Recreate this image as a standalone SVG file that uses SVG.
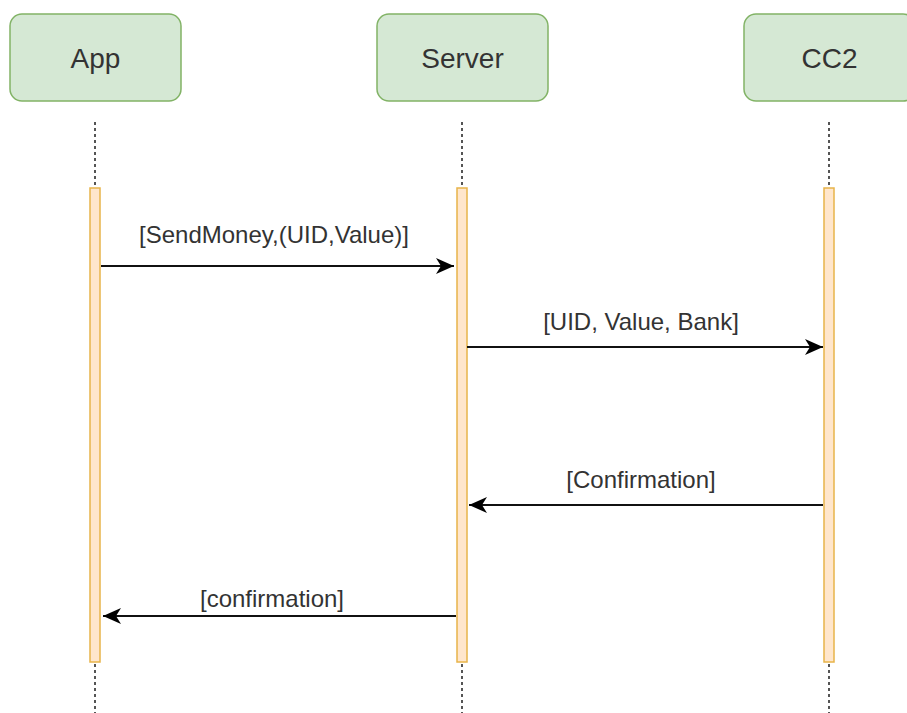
<svg xmlns="http://www.w3.org/2000/svg" width="907" height="713" viewBox="0 0 907 713">
<style>
.box{fill:#d5e8d4;stroke:#82b366;stroke-width:1.5}
.bt{font-family:"Liberation Sans",Arial,sans-serif;font-size:28px;fill:#333;text-anchor:middle}
.life{stroke:#555;stroke-width:2;stroke-dasharray:3 3;fill:none}
.act{fill:#ffe6cc;stroke:#e8b44a;stroke-width:1.5}
.msg{stroke:#111;stroke-width:2;fill:none;marker-end:url(#ah)}
.lt{font-family:"Liberation Sans",Arial,sans-serif;font-size:24px;fill:#333;text-anchor:middle}
</style>
<defs>
<marker id="ah" markerUnits="userSpaceOnUse" markerWidth="20" markerHeight="18" refX="18" refY="8" orient="auto">
<path d="M0,0 L18,8 L0,16 L5,8 Z" fill="#000"/>
</marker>
</defs>
<rect width="907" height="713" fill="#fff"/>
<g id="app">
<rect class="box" x="10" y="14" width="171" height="87" rx="12"/>
<text class="bt" x="95.5" y="68">App</text>
<line class="life" x1="95" y1="122" x2="95" y2="188"/>
<line class="life" x1="95" y1="664" x2="95" y2="713"/>
<rect class="act" x="90" y="188" width="10" height="474"/>
</g>
<g id="server">
<rect class="box" x="377" y="14" width="171" height="87" rx="12"/>
<text class="bt" x="462.5" y="68">Server</text>
<line class="life" x1="462" y1="122" x2="462" y2="188"/>
<line class="life" x1="462" y1="664" x2="462" y2="713"/>
<rect class="act" x="457" y="188" width="10" height="474"/>
</g>
<g id="cc2">
<rect class="box" x="744" y="14" width="171" height="87" rx="12"/>
<text class="bt" x="829.5" y="68">CC2</text>
<line class="life" x1="829" y1="122" x2="829" y2="188"/>
<line class="life" x1="829" y1="664" x2="829" y2="713"/>
<rect class="act" x="824" y="188" width="10" height="474"/>
</g>
<g id="connectors">
<line class="msg" x1="101" y1="266" x2="454" y2="266"/>
<text class="lt" x="274" y="243">[SendMoney,(UID,Value)]</text>
<line class="msg" x1="467" y1="347" x2="823" y2="347"/>
<text class="lt" x="641" y="330">[UID, Value, Bank]</text>
<line class="msg" x1="823" y1="505" x2="469" y2="505"/>
<text class="lt" x="641" y="488">[Confirmation]</text>
<line class="msg" x1="456" y1="616" x2="103" y2="616"/>
<text class="lt" x="272" y="607">[confirmation]</text>
</g>
</svg>
